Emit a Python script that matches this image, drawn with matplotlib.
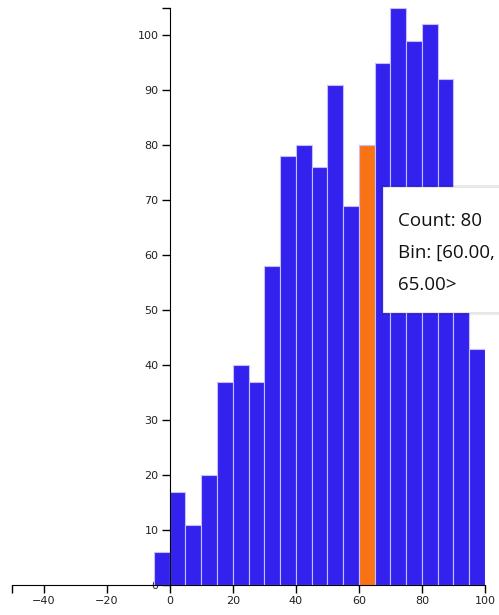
import numpy as np
import matplotlib
matplotlib.use("Agg")
import matplotlib.pyplot as plt
from matplotlib.patches import Rectangle

# histogram bins (width 5) and counts
bin_edges = [-5, 0, 5, 10, 15, 20, 25, 30, 35, 40, 45, 50,
             55, 60, 65, 70, 75, 80, 85, 90, 95, 100]
counts = [6, 17, 11, 20, 37, 40, 37, 58, 78, 80, 76,
          91, 69, 80, 95, 105, 99, 102, 92, 62, 43]
highlight_bin = 13  # [60, 65)

x_ticks = [-40, -20, 0, 20, 40, 60, 80, 100]
y_ticks = [0, 10, 20, 30, 40, 50, 60, 70, 80, 90, 100]
tooltip_lines = ["Count: 80", "Bin: [60.00,", "65.00>"]

W, H = 499, 615
fig = plt.figure(figsize=(W / 100, H / 100), dpi=100)
ax = fig.add_axes([12 / W, 30 / H, 473 / W, 577 / H])

blue = "#3322ee"
orange = "#f97316"
colors = [orange if i == highlight_bin else blue for i in range(len(counts))]
lefts = bin_edges[:-1]
widths = np.diff(bin_edges)
ax.bar(lefts, counts, width=widths, align="edge", color=colors,
       edgecolor="#c4c0ff", linewidth=0.8, zorder=2)

ax.set_xlim(-50, 100)
ax.set_ylim(0, max(counts))

for s in ["top", "right"]:
    ax.spines[s].set_visible(False)
ax.spines["left"].set_position(("data", 0))
ax.spines["left"].set_zorder(3)
ax.spines["bottom"].set_zorder(3)

ax.set_xticks(x_ticks)
ax.set_xticklabels([str(t).replace("-", "\u2212") for t in x_ticks])
ax.set_yticks(y_ticks)
ax.set_yticklabels([str(t) for t in y_ticks])
# outer domain ticks like d3
ax.set_xticks([-50], minor=True)
ax.set_yticks([max(counts)], minor=True)
ax.tick_params(axis="both", which="both", direction="out", length=6,
               width=1, colors="black", labelsize=8, pad=2)
for lbl in ax.get_xticklabels() + ax.get_yticklabels():
    lbl.set_color("#222222")

# tooltip
shadow = Rectangle((381 / W, (H - 315) / H), 125 / W, 130 / H,
                   transform=fig.transFigure, facecolor="#00000014",
                   edgecolor="none", zorder=5)
box = Rectangle((383 / W, (H - 312) / H), 125 / W, 125 / H,
                transform=fig.transFigure, facecolor="white",
                edgecolor="#e6e6e6", linewidth=0.8, zorder=6)
fig.patches.extend([shadow, box])
for i, line in enumerate(tooltip_lines):
    fig.text(398 / W, (H - 221 - 31.8 * i) / H, line, fontsize=13.5,
             family=["Open Sans", "DejaVu Sans"], color="#111111",
             va="center", ha="left", zorder=7)

fig.savefig("out.png", dpi=100)
